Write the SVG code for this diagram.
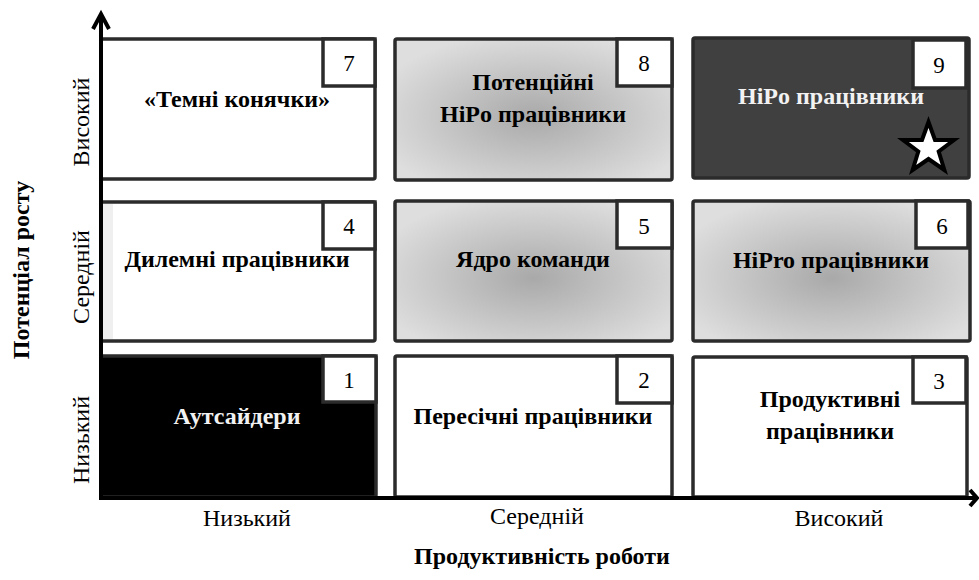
<svg xmlns="http://www.w3.org/2000/svg" width="979" height="580" viewBox="0 0 979 580">
<defs>
<radialGradient id="g" cx="50%" cy="55%" r="60%">
<stop offset="0" stop-color="#a9a9a9"/>
<stop offset="1" stop-color="#dedede"/>
</radialGradient>
<style>
.box{stroke:#2b2b2b;stroke-width:3.5}
.nb{fill:#fff;stroke:#2b2b2b;stroke-width:3.5}
.num{font-family:"Liberation Serif",serif;font-size:23px;text-anchor:middle;fill:#000}
.lbl{font-family:"Liberation Serif",serif;font-size:24px;font-weight:bold;text-anchor:middle;fill:#000}
.wl{fill:#f2f2f2}
.ax{font-family:"Liberation Serif",serif;font-size:24px;text-anchor:middle;fill:#000}
.axb{font-family:"Liberation Serif",serif;font-size:24px;font-weight:bold;text-anchor:middle;fill:#000}
.axis{stroke:#000;stroke-width:4;fill:none}
</style>
</defs>
<rect width="979" height="580" fill="#fff"/>

<g id="n7">
<rect class="box" x="101" y="39" width="274" height="140" rx="2" fill="#fff"/>
<rect class="nb" x="323" y="39" width="52" height="47"/>
<text class="num" x="349" y="71">7</text>
<text class="lbl" x="237" y="107">«Темні конячки»</text>
</g>
<g id="n8">
<rect class="box" x="395" y="39" width="277" height="141" rx="2" fill="url(#g)"/>
<rect class="nb" x="617" y="39" width="55" height="47"/>
<text class="num" x="644" y="71">8</text>
<text class="lbl" x="533" y="90">Потенційні</text>
<text class="lbl" x="533" y="122">HiPo працівники</text>
</g>
<g id="n9">
<rect class="box" x="693" y="38" width="276" height="140" rx="2" fill="#404040" stroke="#262626"/>
<rect class="nb" x="913" y="40" width="53" height="48" stroke="#404040"/>
<text class="num" x="939" y="73">9</text>
<text class="lbl wl" x="831" y="104">HiPo працівники</text>
<polygon points="928.5,122 935,140 954,140 938.7,151.5 944.4,170 928.5,159 912.6,170 918.3,151.5 903,140 922,140" fill="#fff" stroke="#000" stroke-width="4" stroke-linejoin="miter"/>
</g>

<g id="n4">
<rect class="box" x="101" y="202" width="274" height="139" rx="2" fill="#fff"/>
<rect x="103" y="204" width="10" height="135" fill="#efefef"/>
<rect class="nb" x="323" y="202" width="52" height="47"/>
<text class="num" x="349" y="234">4</text>
<text class="lbl" x="237" y="267">Дилемні працівники</text>
</g>
<g id="n5">
<rect class="box" x="395" y="201" width="277" height="140" rx="2" fill="url(#g)"/>
<rect class="nb" x="617" y="201" width="55" height="47"/>
<text class="num" x="644" y="234">5</text>
<text class="lbl" x="533" y="267">Ядро команди</text>
</g>
<g id="n6">
<rect class="box" x="693" y="201" width="277" height="140" rx="2" fill="url(#g)"/>
<rect class="nb" x="916" y="201" width="52" height="47"/>
<text class="num" x="942" y="234">6</text>
<text class="lbl" x="831" y="268">HiPro працівники</text>
</g>

<g id="n1">
<rect class="box" x="101" y="356" width="275" height="141" rx="2" fill="#000"/>
<rect class="nb" x="323" y="356" width="53" height="46"/>
<text class="num" x="349" y="388">1</text>
<text class="lbl wl" x="237" y="424">Аутсайдери</text>
</g>
<g id="n2">
<rect class="box" x="395" y="356" width="277" height="141" rx="2" fill="#fff"/>
<rect class="nb" x="617" y="356" width="55" height="47"/>
<text class="num" x="644" y="388">2</text>
<text class="lbl" x="533" y="424">Пересічні працівники</text>
</g>
<g id="n3">
<rect class="box" x="693" y="357" width="274" height="140" rx="2" fill="#fff"/>
<rect class="nb" x="913" y="357" width="53" height="46"/>
<text class="num" x="939" y="389">3</text>
<text class="lbl" x="830" y="407">Продуктивні</text>
<text class="lbl" x="830" y="439">працівники</text>
</g>

<g id="axes">
<line class="axis" x1="101" y1="500" x2="101" y2="14"/>
<polyline class="axis" points="93,29 101,14 109,29" stroke-width="4.5"/>
<line class="axis" x1="99" y1="498" x2="977" y2="498"/>
<polyline class="axis" points="970,490 977,498 970,506" stroke-width="4.5"/>
</g>

<g id="labels">
<text class="ax" x="247" y="526">Низький</text>
<text class="ax" x="537" y="524">Середній</text>
<text class="ax" x="839" y="526">Високий</text>
<text class="axb" x="542" y="564">Продуктивність роботи</text>
<text class="ax" transform="translate(89,122) rotate(-90)">Високий</text>
<text class="ax" transform="translate(89,277) rotate(-90)">Середній</text>
<text class="ax" transform="translate(89,440) rotate(-90)">Низький</text>
<text class="axb" transform="translate(29,270) rotate(-90)">Потенціал росту</text>
</g>
</svg>
